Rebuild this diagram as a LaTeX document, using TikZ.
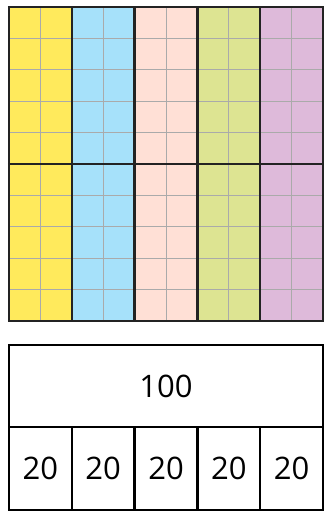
\documentclass[tikz,border=0pt]{standalone}
\usepackage{fontspec}
\setmainfont{Open Sans}
\usepackage{xcolor}
\usepackage{tikz}
\usetikzlibrary{positioning}
\definecolor{strip1}{RGB}{255,234,92}
\definecolor{strip2}{RGB}{166,225,250}
\definecolor{strip3}{RGB}{255,224,214}
\definecolor{strip4}{RGB}{221,228,146}
\definecolor{strip5}{RGB}{222,186,218}
\definecolor{gridgray}{RGB}{170,170,170}
\definecolor{linedark}{RGB}{35,35,35}

\begin{document}
\begin{tikzpicture}[x=1pt,y=-1pt,
  fine/.style={gridgray,line width=1pt},
  heavy/.style={linedark,line width=2.5pt},
  tapebox/.style={draw=black,line width=2.5pt,inner sep=0pt,outer sep=0pt,
    font=\fontsize{31}{36}\selectfont}]
\useasboundingbox (0,0) rectangle (326,512);
% hundred square
\foreach \c [count=\i from 0] in {strip1,strip2,strip3,strip4,strip5}
  \fill[\c] (9+62.8*\i,7) rectangle ++(62.8,314);
\foreach \k in {1,...,9}{
  \draw[fine] (9+31.4*\k,7)--(9+31.4*\k,321);
  \draw[fine] (9,7+31.4*\k)--(323,7+31.4*\k);
}
\foreach \k in {0,...,5}
  \draw[heavy] (9+62.8*\k,7)--(9+62.8*\k,321);
\foreach \y in {7,164,321}
  \draw[heavy] (7.75,\y)--(324.25,\y);
% tape
\node[tapebox,minimum width=314pt,minimum height=82pt,anchor=north west]
  (total) at (9,345) {100};
\node[tapebox,minimum width=62.8pt,minimum height=83pt,anchor=north west]
  (part1) at (total.south west) {20};
\foreach \i [count=\j from 1] in {2,...,5}
  \node[tapebox,minimum width=62.8pt,minimum height=83pt,
    right=0pt of part\j] (part\i) {20};
\end{tikzpicture}
\end{document}
